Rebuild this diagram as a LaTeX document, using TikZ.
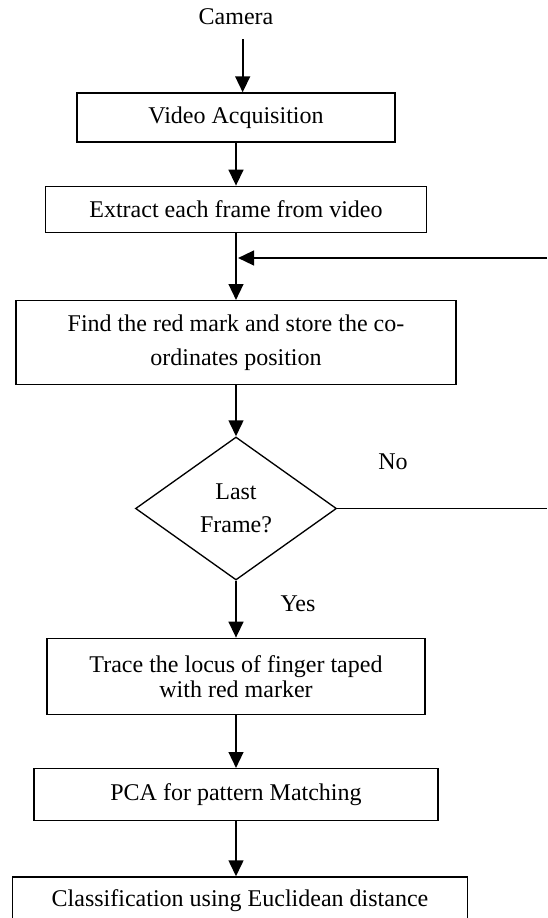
\documentclass[tikz,border=0pt]{standalone}
\usepackage{fontspec}
\setmainfont{Liberation Serif}
\usetikzlibrary{arrows.meta,positioning,shapes.geometric}

\begin{document}
\begin{tikzpicture}[
  x=0.75pt,y=-0.75pt,
  box/.style={draw,line width=1pt,align=center,inner sep=3pt,font=\fontsize{18}{25}\selectfont},
  decision/.style={draw,diamond,line width=1pt,align=center,inner sep=0pt,minimum width=150.75pt,minimum height=107.25pt,font=\fontsize{18}{25}\selectfont},
  lbl/.style={font=\fontsize{18}{22}\selectfont},
  arr/.style={-{Triangle[length=12pt,width=11pt]},line width=1.75pt},
  link/.style={line width=1pt}
]
\useasboundingbox (0,0) rectangle (547,918);
\node[lbl] (cam) at (236,17) {Camera};
\node[box,minimum width=238.5pt,minimum height=36.75pt] (vid) at (236,117.5) {Video Acquisition};
\node[box,below=32.25pt of vid,minimum width=285.75pt,minimum height=34.5pt] (ext) {Extract each frame from video};
\node[box,below=50.25pt of ext,minimum width=330pt,minimum height=63pt] (find) {Find the red mark and store the co-\\ordinates position};
\node[decision,below=38.25pt of find] (last) {Last\\Frame?};
\node[box,below=42.75pt of last,minimum width=283.5pt,minimum height=57pt,font=\fontsize{18}{19}\selectfont] (trace) {Trace the locus of finger taped\\with red marker};
\node[box,below=39.75pt of trace,minimum width=303pt,minimum height=39pt] (pca) {PCA for pattern Matching};
\node[box,below=41.25pt of pca,xshift=3pt,minimum width=341pt,minimum height=35.25pt] (cls) {Classification using Euclidean distance};
\node[lbl] (no) at (393,462) {No};
\node[lbl] (yes) at (298,604) {Yes};
\coordinate (back) at (547,258);
\coordinate (noend) at (547,504);

\draw[arr] ([xshift=5pt,yshift=-7pt]cam.south) -- ([xshift=5pt]vid.north);
\draw[arr] (vid) -- (ext);
\draw[arr] (ext) -- (find);
\draw[arr] (back) -- ([xshift=1.5pt]back -| ext.south);
\draw[arr] (find) -- (last);
\draw[link] (last.east) -- (last.east -| noend);
\draw[arr] (last) -- (trace);
\draw[arr] (trace) -- (pca);
\draw[arr] (pca.south) -- (pca.south |- cls.north);
\end{tikzpicture}
\end{document}
